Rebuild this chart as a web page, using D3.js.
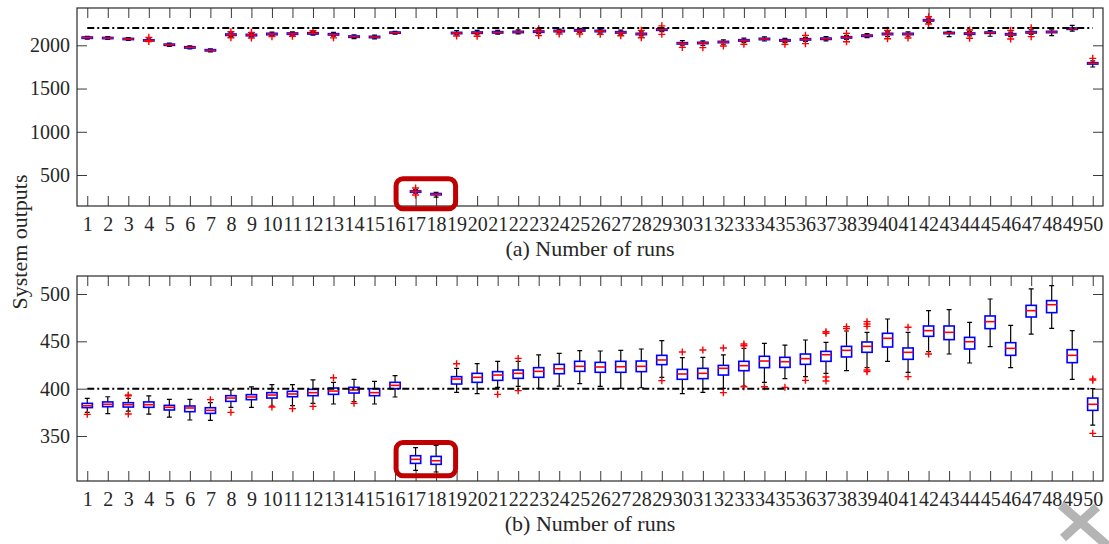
<!DOCTYPE html>
<html>
<head>
<meta charset="utf-8">
<script src="https://cdn.jsdelivr.net/npm/d3@7"></script>
<style>
  body { margin: 0; background: #fff; }
  text { font-family: "Liberation Serif", "Times New Roman", serif; fill: #262626; }
</style>
</head>
<body>
<svg id="chart" width="1109" height="544"></svg>
<script>
// runs on the x axis
const runs = [1,2,3,4,5,6,7,8,9,10,11,12,13,14,15,16,17,18,19,20,21,22,23,24,25,
  26,27,28,29,30,31,32,33,34,35,36,37,38,39,40,41,42,43,44,45,46,47,48,49,50];

// (a) box stats per run: [lower whisker, q1, median, q3, upper whisker]
const topStats = [
  [2070,2080,2088,2096,2104],[2068,2077,2084,2091,2100],[2058,2066,2073,2080,2088],[2047,2050,2057,2064,2075],
  [1988,1999,2007,2014,2025],[1958,1968,1976,1984,1995],[1925,1935,1942,1950,1960],[2100,2114,2123,2131,2145],
  [2098,2110,2119,2127,2140],[2112,2122,2131,2139,2152],[2117,2127,2135,2143,2155],[2118,2130,2138,2146,2158],
  [2107,2119,2127,2135,2150],[2078,2092,2100,2108,2122],[2075,2088,2096,2104,2118],[2130,2139,2146,2153,2162],
  [290,300,308,316,330],[245,270,278,286,300],[2120,2134,2142,2150,2170],[2122,2138,2146,2154,2172],
  [2130,2142,2150,2158,2172],[2132,2146,2154,2162,2178],[2135,2150,2158,2166,2180],[2145,2157,2165,2173,2188],
  [2150,2165,2173,2181,2195],[2142,2157,2165,2173,2188],[2128,2142,2150,2158,2175],[2108,2123,2131,2139,2155],
  [2158,2173,2181,2189,2205],[1995,2015,2023,2031,2054],[1998,2019,2027,2035,2052],[2012,2030,2038,2046,2062],
  [2030,2049,2057,2065,2082],[2050,2065,2073,2081,2098],[2032,2049,2057,2065,2080],[2045,2061,2069,2077,2092],
  [2052,2068,2076,2084,2100],[2068,2084,2092,2100,2115],[2088,2103,2111,2119,2135],[2100,2123,2131,2139,2155],
  [2105,2123,2131,2139,2155],[2262,2281,2289,2297,2315],[2100,2134,2142,2150,2162],[2110,2127,2135,2143,2160],
  [2105,2138,2146,2154,2170],[2100,2119,2127,2135,2152],[2125,2142,2150,2158,2178],[2111,2146,2154,2162,2180],
  [2165,2184,2192,2200,2231],[1749,1783,1791,1799,1820]
];
const topOutliers = [
  [],[],[],[2092,2043],[],[],[],[2156,2088],[2150,2084],[2100],[2104],[2168],[2086],[],[],[],
  [350,268],[],[2107],[2104],[],[],[2192,2112],[2131],[2131],[2127],[2111],[2173,2088],[2225,2127],
  [1976],[1973],[1992],[2011],[],[2011],[2115,2019],[],[2138,2042],[],[2173,2076],[2084],[2331,2246],
  [],[2177,2081],[],[2173,2073],[2204,2100],[],[],[1849]
];

// (b) box stats per run
const bottomStats = [
  [375,380,382,384.5,389.8],[373.6,381,383.5,386,391.5],[376.4,380.6,383.1,385.2,389.8],[373.2,380.3,383.1,386,392.3],
  [370,377.5,380.3,382.4,388.7],[366.9,375.7,379.6,381.7,388.7],[366.5,373.9,377.1,379.9,385.2],[380.3,386.6,390.1,392.6,398.6],
  [380.3,388.4,391.2,393.7,402],[381.7,390.1,393.3,395.8,404.2],[382,391.5,394.4,397.2,404.2],[384.5,392.6,395.8,399.3,409.2],
  [383.8,394,397.5,400.7,406.7],[386.3,395.4,398.6,401.4,409.9],[383.8,392.6,395.8,400,407.7],[391.2,400,403.5,406.7,413.7],
  [313.7,321.1,325.4,329.2,337.7],[312,320.1,323.9,328.5,340.1],[396.1,404.9,410.2,412.7,421.5],[394.7,406.7,412,416.2,426.4],
  [401.4,408.8,414.4,418,428.9],[402.5,410.9,416.2,419.7,428.9],[400.4,412,418.3,422.2,435.6],[402.8,415.8,421.1,425.7,437.3],
  [405.3,418.3,423.6,428.9,440.1],[402.5,417.3,422.9,427.8,439.8],[400.4,417.3,423.2,428.9,440.5],[401,418,423.6,429.2,441.9],
  [412,425.4,430.3,435.2,450.7],[394.7,409.9,415.5,420.4,432.7],[396.1,410.6,416.2,421.5,433],[400.4,414.4,421.5,424.6,435.6],
  [402.8,419,424.3,428.9,442.6],[406.7,422.2,429.2,434.2,447.9],[410.6,422.5,428.5,433.1,446.1],[412.7,425.7,431.7,436.6,451.4],
  [416.2,428.9,435.9,439.4,448.9],[419,433.5,440.5,444.7,460.9],[422.2,438.4,444.7,449.3,459.5],[428.9,444,453.2,458.5,473.6],
  [417.3,431,438.4,443,459.5],[439.1,455.3,461.3,466.2,482.4],[436.6,451.8,459.5,466.2,483.5],[427.1,441.9,449.6,454.2,470.1],
  [444.4,463.4,470.8,476.8,494.7],[422.2,435.2,442.6,448.6,466.9],[457.7,475.7,482.4,488,505.3],[463.7,480.3,488.7,493,508.8],
  [409.9,427.5,435.2,441.2,461.3],[361.6,377.1,383.5,390.1,400]
];
const bottomOutliers = [
  [372.9],[],[392.5,393.3,373.2],[],[],[],[388.4],[375],[],[380.6],[378.9],[381.3],[411.6],[384.5],[],[],
  [],[],[426.4],[],[394],[432,397.9],[],[],[],[],[],[],[408.5],[438.7],[440.8],[443,395.8],
  [447.2,445.4,402.1],[402.1],[401.4],[408.8],[460.2,458.5,412.3,408.1],[465.5,463.4],
  [470.8,468.3,465.8,419.7,418],[],[464.8,412.7],[436.6],[],[],[],[],[],[],[],[410.2,409,352.8]
];

const topTicks = [500, 1000, 1500, 2000];
const bottomTicks = [350, 400, 450, 500];
const topTarget = 2200;
const bottomTarget = 400;
const highlightRuns = [17, 18];

const svg = d3.select("#chart");
const x = d3.scaleLinear().domain([0.5, 50.5]).range([77, 1103]);

const panels = [
  { top: 8, bottom: 206, domain: [141.5, 2431.5], ticks: topTicks, stats: topStats, outliers: topOutliers,
    target: topTarget, title: "(a) Number of runs", hl: [110, 458] },
  { top: 276, bottom: 481, domain: [302.5, 519], ticks: bottomTicks, stats: bottomStats, outliers: bottomOutliers,
    target: bottomTarget, title: "(b) Number of runs", hl: [308, 343.2] }
];

const cleanAxis = (g) => {
  g.attr("font-family", null).attr("font-size", null).style("color", "#3a3a3a");
  g.selectAll(".domain").remove();
  g.selectAll("text").style("font-size", "20px");
};

panels.forEach(p => {
  const y = d3.scaleLinear().domain(p.domain).range([p.bottom, p.top]);
  const g = svg.append("g");

  // axes, ticks pointing inward on all four sides
  g.append("g").attr("transform", `translate(0,${p.bottom})`)
    .call(d3.axisBottom(x).tickValues(runs).tickFormat(d3.format("d")).tickSizeInner(-10).tickSizeOuter(0).tickPadding(11))
    .call(cleanAxis);
  g.append("g").attr("transform", `translate(0,${p.top})`)
    .call(d3.axisTop(x).tickValues(runs).tickFormat("").tickSizeInner(-10).tickSizeOuter(0))
    .call(cleanAxis);
  g.append("g").attr("transform", "translate(77,0)")
    .call(d3.axisLeft(y).tickValues(p.ticks).tickFormat(d3.format("d")).tickSizeInner(-10).tickSizeOuter(0).tickPadding(7))
    .call(cleanAxis);
  g.append("g").attr("transform", "translate(1103,0)")
    .call(d3.axisRight(y).tickValues(p.ticks).tickFormat("").tickSizeInner(-10).tickSizeOuter(0))
    .call(cleanAxis);

  g.append("rect")
    .attr("x", 77).attr("y", p.top).attr("width", 1103 - 77).attr("height", p.bottom - p.top)
    .attr("fill", "none").attr("stroke", "#2a2a2a").attr("stroke-width", 1.2);

  // boxes
  const boxes = g.append("g").selectAll("g")
    .data(p.stats.map((s, i) => ({ run: runs[i], s: s, out: p.outliers[i] })))
    .enter().append("g");

  boxes.append("path")
    .attr("d", d => `M${x(d.run)},${y(d.s[0])}V${y(d.s[1])}M${x(d.run)},${y(d.s[3])}V${y(d.s[4])}` +
      `M${x(d.run - 0.12)},${y(d.s[0])}H${x(d.run + 0.12)}M${x(d.run - 0.12)},${y(d.s[4])}H${x(d.run + 0.12)}`)
    .attr("stroke", "#000").attr("stroke-width", 1.2).attr("fill", "none");

  boxes.append("rect")
    .attr("x", d => x(d.run - 0.25))
    .attr("width", x(1.5) - x(1))
    .attr("y", d => y(d.s[3]))
    .attr("height", d => Math.max(y(d.s[1]) - y(d.s[3]), 0.5))
    .attr("fill", "none").attr("stroke", "#0000ff").attr("stroke-width", 1.6);

  boxes.append("line")
    .attr("x1", d => x(d.run - 0.25)).attr("x2", d => x(d.run + 0.25))
    .attr("y1", d => y(d.s[2])).attr("y2", d => y(d.s[2]))
    .attr("stroke", "#ff0000").attr("stroke-width", 1.6);

  boxes.selectAll(".out")
    .data(d => d.out.map(v => ({ run: d.run, v: v })))
    .enter().append("path")
    .attr("class", "out")
    .attr("d", d => `M${x(d.run) - 3.5},${y(d.v)}h7M${x(d.run)},${y(d.v) - 3.5}v7`)
    .attr("stroke", "#ff0000").attr("stroke-width", 1.4).attr("fill", "none");

  // target line
  g.append("line")
    .attr("x1", x(runs[0])).attr("x2", x(runs[runs.length - 1]))
    .attr("y1", y(p.target)).attr("y2", y(p.target))
    .attr("stroke", "#000").attr("stroke-width", 2)
    .attr("stroke-dasharray", "7,3,2,3");

  // highlight around runs 17-18
  g.append("rect")
    .attr("x", x(highlightRuns[0] - 0.95))
    .attr("width", x(highlightRuns[1] + 0.95) - x(highlightRuns[0] - 0.95))
    .attr("y", y(p.hl[1]))
    .attr("height", y(p.hl[0]) - y(p.hl[1]))
    .attr("rx", 7)
    .attr("fill", "none").attr("stroke", "#c00000").attr("stroke-width", 5);

  g.append("text")
    .attr("x", 590).attr("y", p.bottom + 50)
    .attr("text-anchor", "middle")
    .style("font-size", "22px")
    .text(p.title);
});

svg.append("text")
  .attr("transform", "translate(27,242) rotate(-90)")
  .attr("text-anchor", "middle")
  .style("font-size", "22px")
  .text("System outputs");

// grey close mark in the corner
svg.append("path")
  .attr("d", "M1061,505L1109,547M1097,507L1063,538")
  .attr("stroke", "#b4b4b4").attr("stroke-width", 9).attr("fill", "none");
</script>
</body>
</html>
